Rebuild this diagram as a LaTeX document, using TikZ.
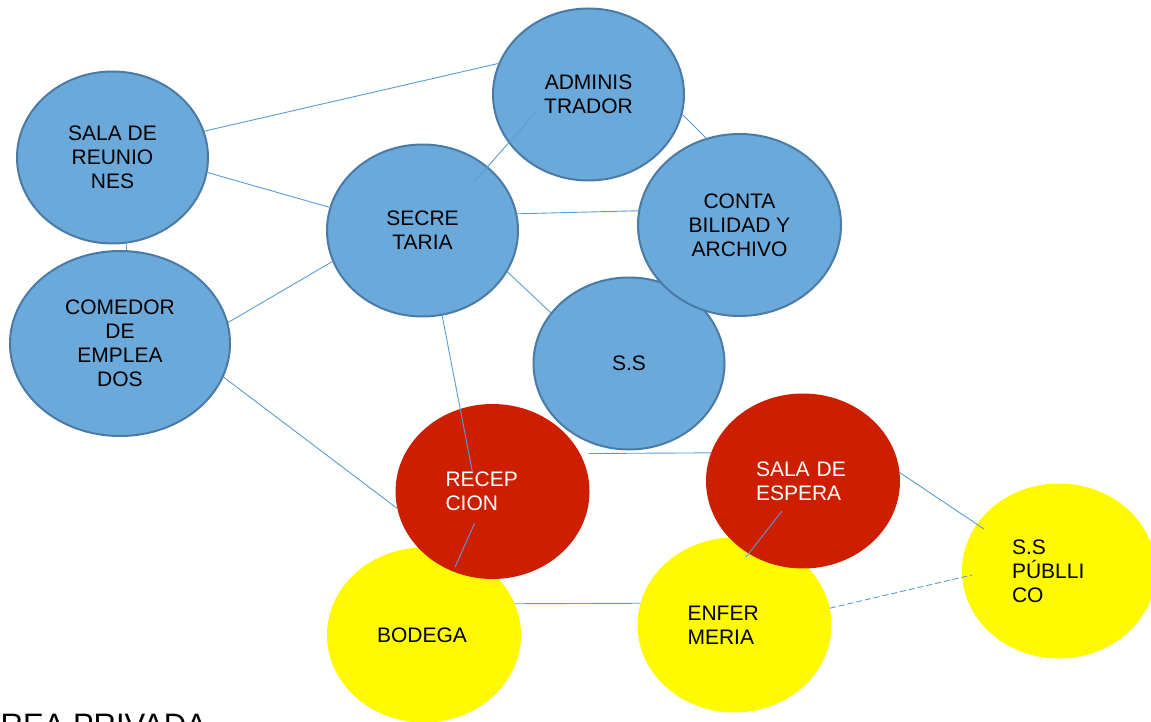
\documentclass[tikz,border=0pt]{standalone}
\usepackage{fontspec}
\setmainfont{Liberation Sans}
\usetikzlibrary{shapes.geometric,calc}
\definecolor{azulsala}{HTML}{6AA9DA}
\definecolor{bordeazul}{HTML}{4A7BA6}
\definecolor{lineaazul}{HTML}{5B9BD5}
\definecolor{rojosala}{HTML}{CD1F00}
\definecolor{amarillosala}{HTML}{FFFA00}
\begin{document}
\begin{tikzpicture}[x=1pt, y=1pt,
  sala/.style={ellipse, inner sep=0pt, font=\fontsize{21}{24}\selectfont},
  azul/.style={sala, draw=bordeazul, line width=2pt, fill=azulsala, align=center, minimum width=191pt, minimum height=172pt},
  roja/.style={sala, fill=rojosala, text=white, text width=94pt, align=left, minimum width=194pt, minimum height=175pt},
  amarilla/.style={roja, fill=amarillosala, text=black},
  enlace/.style={draw=lineaazul, line width=0.9pt}]
\useasboundingbox (0,0) rectangle (1151,721);
\node (secre) [azul] at (422.5,490.5) {SECRE\\TARIA};
\node (reun) [azul, node distance=310pt, left of=secre, yshift=73pt] {SALA DE\\REUNIO\\NES};
\node (comedor) [azul, node distance=302.5pt, left of=secre, yshift=-113pt, minimum width=220pt, minimum height=185pt] {COMEDOR\\DE\\EMPLEA\\DOS};
\node (admin) [azul, node distance=166pt, right of=secre, yshift=136pt] {ADMINIS\\TRADOR};
\node (ss) [azul, node distance=206.5pt, right of=secre, yshift=-133pt] {S.S};
\node (conta) [azul, node distance=317pt, right of=secre, yshift=5.5pt, minimum width=203pt, minimum height=182pt] {CONTA\\BILIDAD Y\\ARCHIVO};
% zona de atencion
\node (bodega) [amarilla, node distance=404.5pt, below of=secre, xshift=1.5pt] {BODEGA};
\node (recep) [roja, node distance=261pt, below of=secre, xshift=70pt] {RECEP\\CION};
\node (enfer) [amarilla, node distance=310.5pt, right of=bodega, yshift=10pt] {ENFER\\MERIA};
\node (espera) [roja, node distance=310.5pt, right of=recep, yshift=10.5pt] {SALA DE\\ESPERA};
\node (publico) [amarilla, node distance=256pt, right of=espera, yshift=-90pt] {S.S\\PÚBLLI\\CO};
\node (privada) [anchor=base west, inner sep=0pt, font=\fontsize{31}{36}\selectfont] at (0.5,-14) {REA PRIVADA};
\draw [enlace] (reun.16) -- (admin.161);
\draw [enlace] (reun.-9) -- (secre.166);
\draw [enlace] (reun.-81) -- (comedor.86);
\draw [enlace] (comedor.11) -- (secre.199);
\draw [enlace] (comedor.-18.5) -- (recep.-170.5);
\draw [enlace] ($(admin)+(-52.5,-17.5)$) -- ($(secre)+(51.5,48.5)$);
\draw [enlace] (secre.10) -- (conta.172);
\draw [enlace] (admin.-12) -- (conta.111);
\draw [enlace] (secre.-26) -- (ss.147);
\draw [enlace] (secre.-77) -- ($(recep)+(-20,19)$);
\draw [enlace] ($(recep)+(-18,-32)$) -- ($(bodega)+(31,68)$);
\draw [enlace] ($(recep)+(96,38)$) -- (espera.163);
\draw [enlace] (espera.5) -- ($(publico)+(-75,42)$);
\draw [enlace] ($(espera)+(-21,-30)$) -- ($(enfer)+(11.5,68)$);
\draw [enlace] (bodega.19) -- (enfer.167);
\draw [enlace, dash pattern=on 6pt off 3pt] (enfer.10) -- ($(publico)+(-87,-4)$);
\end{tikzpicture}
\end{document}
